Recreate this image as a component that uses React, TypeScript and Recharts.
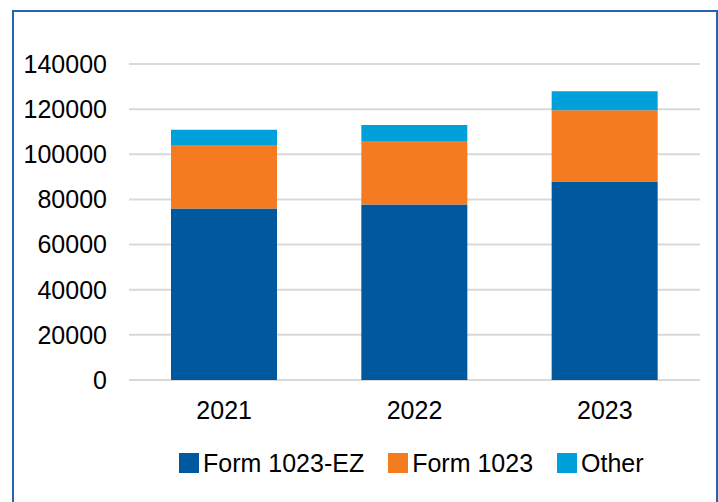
import React from 'react';
import { BarChart, Bar, XAxis, YAxis, CartesianGrid, Legend } from 'recharts';

const years = ['2021', '2022', '2023'];
const form1023EZ = [76000, 77700, 87900];
const form1023 = [28100, 28200, 31600];
const other = [6800, 7100, 8400];
const yTicks = [0, 20000, 40000, 60000, 80000, 100000, 120000, 140000];

const seriesNames = ['Form 1023-EZ', 'Form 1023', 'Other'];
const colors = ['#00589E', '#F47B20', '#00A0DA'];

const data = years.map((y, i) => ({
  year: y,
  ez: form1023EZ[i],
  f1023: form1023[i],
  other: other[i],
}));

const FONT = '"Liberation Sans", Arial, sans-serif';

const LegendContent = () => (
  <div
    style={{
      display: 'flex',
      alignItems: 'center',
      paddingLeft: 179,
      fontFamily: FONT,
      fontSize: 25,
      color: '#000',
      height: 30,
    }}
  >
    {seriesNames.map((n, i) => (
      <div key={n} style={{ display: 'flex', alignItems: 'center', marginRight: 24 }}>
        <div style={{ width: 20, height: 20, background: colors[i], marginRight: 4 }} />
        <span style={{ lineHeight: '30px' }}>{n}</span>
      </div>
    ))}
  </div>
);

export default function App() {
  return (
    <div
      style={{
        position: 'absolute',
        left: 0,
        top: 0,
        width: 718,
        height: 502,
        background: '#fff',
        overflow: 'hidden',
      }}
    >
      <div
        style={{
          position: 'absolute',
          left: 12,
          top: 10,
          width: 702,
          height: 520,
          border: '2px solid #2566AE',
          boxSizing: 'content-box',
        }}
      />
      <div style={{ position: 'absolute', left: 0, top: 0 }}>
        <BarChart
          width={718}
          height={502}
          data={data}
          margin={{ top: 64, right: 18, bottom: 82, left: 19 }}
          barSize={106}
        >
          <CartesianGrid vertical={false} stroke="#D9D9D9" strokeWidth={2} />
          <XAxis
            dataKey="year"
            axisLine={false}
            tickLine={false}
            tickSize={0}
            tickMargin={21}
            height={40}
            tick={{ fill: '#000', fontSize: 25, fontFamily: FONT }}
          />
          <YAxis
            domain={[0, 140000]}
            ticks={yTicks}
            axisLine={false}
            tickLine={false}
            tickSize={0}
            tickMargin={22}
            width={110}
            interval={0}
            tick={{ fill: '#000', fontSize: 25, fontFamily: FONT }}
          />
          <Legend
            verticalAlign="middle"
            align="center"
            layout="horizontal"
            wrapperStyle={{ top: 448, left: 0, width: 718 }}
            content={<LegendContent />}
          />
          <Bar dataKey="ez" name={seriesNames[0]} stackId="a" fill={colors[0]} isAnimationActive={false} />
          <Bar dataKey="f1023" name={seriesNames[1]} stackId="a" fill={colors[1]} isAnimationActive={false} />
          <Bar dataKey="other" name={seriesNames[2]} stackId="a" fill={colors[2]} isAnimationActive={false} />
        </BarChart>
      </div>
    </div>
  );
}
